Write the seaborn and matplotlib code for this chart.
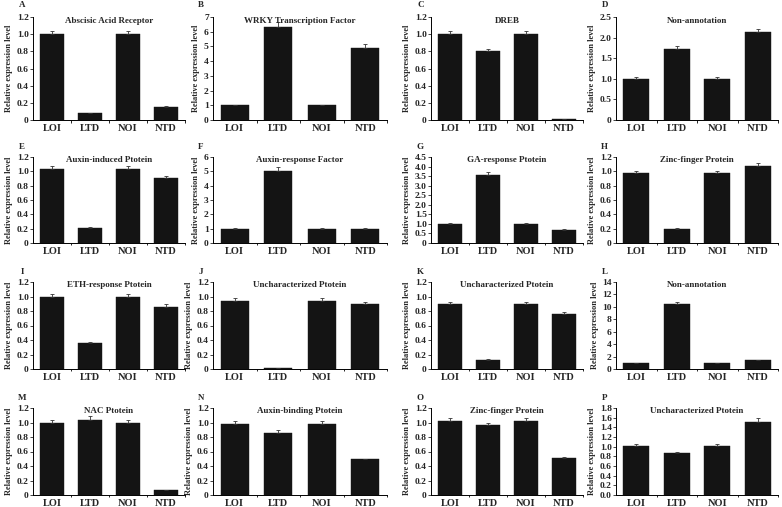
import numpy as np
import pandas as pd
import matplotlib
matplotlib.use("Agg")
import matplotlib.pyplot as plt
import seaborn as sns

sns.set_theme(style="ticks")
plt.rcParams['font.family'] = ['Liberation Serif', 'DejaVu Serif']
plt.rcParams['font.weight'] = 'bold'

categories = ["LOI", "LTD", "NOI", "NTD"]

letters = list("ABCDEFGHIJKLMNOP")
titles = ["Abscisic Acid Receptor", "WRKY Transcription Factor", "DREB", "Non-annotation",
          "Auxin-induced Ptotein", "Auxin-response Factor", "GA-response Ptotein", "Zinc-finger Protein",
          "ETH-response Ptotein", "Uncharacterized Ptotein", "Uncharacterized Ptotein", "Non-annotation",
          "NAC Ptotein", "Auxin-binding Ptotein", "Zinc-finger Protein", "Uncharacterized Ptotein"]

val_A = [1.00, 0.08, 1.00, 0.15]; err_A = [0.04, 0.005, 0.04, 0.01]
val_B = [1.00, 6.35, 1.00, 4.90]; err_B = [0.05, 0.30, 0.05, 0.25]
val_C = [1.00, 0.80, 1.00, 0.01]; err_C = [0.04, 0.03, 0.04, 0.0]
val_D = [1.00, 1.72, 1.00, 2.14]; err_D = [0.04, 0.07, 0.04, 0.08]
val_E = [1.03, 0.21, 1.03, 0.91]; err_E = [0.04, 0.01, 0.04, 0.03]
val_F = [1.00, 5.05, 1.00, 1.00]; err_F = [0.04, 0.25, 0.04, 0.04]
val_G = [1.00, 3.55, 1.00, 0.68]; err_G = [0.03, 0.15, 0.03, 0.03]
val_H = [0.97, 0.20, 0.97, 1.07]; err_H = [0.04, 0.01, 0.04, 0.04]
val_I = [1.00, 0.36, 1.00, 0.85]; err_I = [0.04, 0.01, 0.04, 0.04]
val_J = [0.94, 0.01, 0.94, 0.89]; err_J = [0.04, 0.0, 0.04, 0.04]
val_K = [0.90, 0.13, 0.90, 0.76]; err_K = [0.03, 0.005, 0.03, 0.03]
val_L = [0.90, 10.40, 0.90, 1.40]; err_L = [0.05, 0.40, 0.05, 0.05]
val_M = [1.00, 1.04, 1.00, 0.07]; err_M = [0.04, 0.05, 0.04, 0.0]
val_N = [0.98, 0.86, 0.98, 0.49]; err_N = [0.04, 0.04, 0.04, 0.01]
val_O = [1.02, 0.97, 1.02, 0.51]; err_O = [0.04, 0.03, 0.04, 0.02]
val_P = [1.01, 0.87, 1.01, 1.52]; err_P = [0.04, 0.02, 0.04, 0.07]

values = [val_A, val_B, val_C, val_D, val_E, val_F, val_G, val_H,
          val_I, val_J, val_K, val_L, val_M, val_N, val_O, val_P]
errors = [err_A, err_B, err_C, err_D, err_E, err_F, err_G, err_H,
          err_I, err_J, err_K, err_L, err_M, err_N, err_O, err_P]

ymax = [1.2, 7, 1.2, 2.5, 1.2, 6, 4.5, 1.2, 1.2, 1.2, 1.2, 14, 1.2, 1.2, 1.2, 1.8]
ystep = [0.2, 1, 0.2, 0.5, 0.2, 1, 0.5, 0.2, 0.2, 0.2, 0.2, 2, 0.2, 0.2, 0.2, 0.2]

W, H = 782, 507
fig = plt.figure(figsize=(W / 100, H / 100), dpi=100)

rows_px = [(17, 120), (157, 243), (282, 369), (408, 495)]
cols_px = [(33, 185), (213, 387), (431, 583), (616, 778)]

def fmt(v, step, last):
    if abs(v) < 1e-9:
        return "0.0" if last else "0"
    if step >= 1:
        return f"{v:.0f}"
    return f"{v:.1f}"

for i in range(16):
    r, c = divmod(i, 4)
    top, bot = rows_px[r]
    left, right = cols_px[c]
    ax = fig.add_axes([left / W, 1 - bot / H, (right - left) / W, (bot - top) / H])
    df = pd.DataFrame({"group": categories, "value": values[i]})
    sns.barplot(data=df, x="group", y="value", color="#141414", saturation=1,
                width=0.65, errorbar=None, ax=ax, edgecolor="#141414", linewidth=0.3)
    ax.errorbar(np.arange(4), values[i], yerr=[np.zeros(4), errors[i]], fmt="none",
                ecolor="#333333", elinewidth=0.6, capsize=1.6, capthick=0.6)
    ax.set_xlim(-0.5, 3.5)
    ax.set_ylim(0, ymax[i])
    ticks = np.arange(0, ymax[i] + ystep[i] / 2, ystep[i])
    ax.set_yticks(ticks)
    ax.set_yticklabels([fmt(t, ystep[i], i == 15) for t in ticks], fontsize=6.8, fontweight="bold")
    ax.set_xticks(np.arange(4))
    ax.set_xticklabels(categories, fontsize=7.5, fontweight="bold")
    ax.tick_params(axis="x", length=0, pad=3)
    ax.tick_params(axis="y", length=2, width=0.6, pad=1, direction="out")
    for b in [0.5, 1.5, 2.5, 3.5]:
        ax.plot([b, b], [0, -0.025 * ymax[i]], color="black", lw=0.6, clip_on=False,
                solid_capstyle="butt")
    ax.set_xlabel("")
    ax.set_ylabel("Relative expression level", fontsize=6, fontweight="bold", labelpad=2.5)
    for s in ["top", "right"]:
        ax.spines[s].set_visible(False)
    for s in ["left", "bottom"]:
        ax.spines[s].set_linewidth(0.7)
        ax.spines[s].set_color("black")
    ax.set_facecolor("white")
    ax.text(0.5, 0.96, titles[i], transform=ax.transAxes, ha="center", va="center",
            fontsize=6.5, fontweight="bold")
    ax.text(-0.07, 1.12, letters[i], transform=ax.transAxes, ha="center", va="center",
            fontsize=6.5, fontweight="bold")

fig.savefig("out.png", dpi=100, facecolor="white")
